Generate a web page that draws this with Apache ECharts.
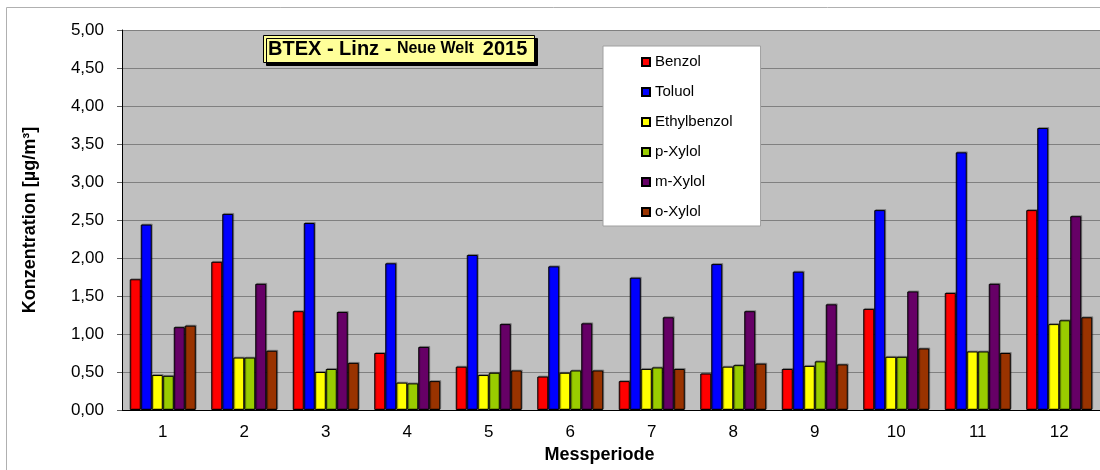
<!DOCTYPE html>
<html>
<head>
<meta charset="utf-8">
<script src="https://cdn.jsdelivr.net/npm/echarts@6/dist/echarts.min.js"></script>
<style>
  html, body { margin: 0; padding: 0; background: #fff; }
  #myChart { width: 1100px; height: 470px; }
</style>
</head>
<body>
<div id="myChart"></div>
<script>
// Messperioden 1-12
const perioden = ['1', '2', '3', '4', '5', '6', '7', '8', '9', '10', '11', '12']
const benzol      = [1.72, 1.95, 1.30, 0.75, 0.57, 0.44, 0.38, 0.48, 0.54, 1.33, 1.54, 2.63]
const toluol      = [2.44, 2.58, 2.46, 1.93, 2.04, 1.89, 1.74, 1.92, 1.82, 2.63, 3.39, 3.71]
const ethylbenzol = [0.46, 0.69, 0.50, 0.36, 0.46, 0.49, 0.54, 0.57, 0.58, 0.70, 0.77, 1.13]
const pXylol      = [0.45, 0.69, 0.54, 0.35, 0.49, 0.52, 0.56, 0.59, 0.64, 0.70, 0.77, 1.18]
const mXylol      = [1.09, 1.66, 1.29, 0.83, 1.13, 1.14, 1.22, 1.30, 1.39, 1.56, 1.66, 2.55]
const oXylol      = [1.11, 0.78, 0.62, 0.38, 0.52, 0.52, 0.54, 0.61, 0.60, 0.81, 0.75, 1.22]

const namen = ['Benzol', 'Toluol', 'Ethylbenzol', 'p-Xylol', 'm-Xylol', 'o-Xylol']
const farben = ['#FF0000', '#0000FF', '#FFFF00', '#99CC00', '#660066', '#993300']
const werte = [benzol, toluol, ethylbenzol, pXylol, mXylol, oXylol]

const font = '"Liberation Sans", Arial, sans-serif'

const series = namen.map((name, i) => ({
  name: name,
  type: 'bar',
  barWidth: 11,
  barGap: '0%',
  data: werte[i],
  itemStyle: {
    color: farben[i],
    borderColor: '#000',
    borderWidth: 1,
    shadowColor: 'rgba(0,0,0,0.25)',
    shadowOffsetX: 1,
    shadowOffsetY: -1,
    shadowBlur: 0
  }
}))

const option = {
  animation: false,
  textStyle: { fontFamily: font },
  graphic: [{
    type: 'rect',
    shape: { x: 6.5, y: 7.5, width: 1200, height: 600 },
    style: { fill: 'none', stroke: '#b0b0b0', lineWidth: 1 },
    z: -10
  }],
  title: {
    text: '{a|BTEX - Linz - }{b|Neue Welt  }{a|2015}',
    left: 263,
    top: 35,
    padding: [4, 7, 4, 5],
    backgroundColor: '#FFFF99',
    borderColor: '#000',
    borderWidth: 1,
    shadowColor: '#000',
    shadowOffsetX: 3,
    shadowOffsetY: 3,
    shadowBlur: 0,
    textStyle: {
      rich: {
        a: { fontFamily: font, fontWeight: 'bold', fontSize: 20, color: '#000', lineHeight: 20 },
        b: { fontFamily: font, fontWeight: 'bold', fontSize: 16, color: '#000', lineHeight: 20 }
      }
    }
  },
  legend: {
    data: namen,
    orient: 'vertical',
    left: 603,
    top: 46,
    backgroundColor: '#fff',
    borderColor: '#a0a0a0',
    borderWidth: 1,
    padding: [8, 28, 6, 38],
    itemWidth: 8,
    itemHeight: 8,
    itemGap: 14,
    icon: 'rect',
    textStyle: { fontFamily: font, fontSize: 15, color: '#000', lineHeight: 16 }
  },
  grid: {
    left: 122,
    top: 30,
    width: 982,
    height: 380,
    show: true,
    backgroundColor: '#C0C0C0',
    borderWidth: 0
  },
  xAxis: {
    type: 'category',
    data: perioden,
    name: 'Messperiode',
    nameLocation: 'middle',
    nameGap: 31,
    nameTextStyle: { fontFamily: font, fontWeight: 'bold', fontSize: 18, color: '#000', padding: [0, 23, 0, 0] },
    axisLine: { lineStyle: { color: '#000', width: 1 } },
    axisTick: { length: 5, lineStyle: { color: '#808080' } },
    axisLabel: { fontFamily: font, fontSize: 17, color: '#000', margin: 14 }
  },
  yAxis: {
    type: 'value',
    min: 0,
    max: 5,
    interval: 0.5,
    name: 'Konzentration [µg/m³]',
    nameLocation: 'middle',
    nameGap: 83,
    nameTextStyle: { fontFamily: font, fontWeight: 'bold', fontSize: 18, color: '#000' },
    axisLine: { show: true, lineStyle: { color: '#000', width: 1 } },
    axisTick: { show: true, length: 5, lineStyle: { color: '#606060' } },
    axisLabel: {
      fontFamily: font,
      fontSize: 17,
      color: '#000',
      margin: 18,
      formatter: v => v.toFixed(2).replace('.', ',')
    },
    splitLine: { lineStyle: { color: '#808080', width: 1 } }
  },
  series: series
}

const myChart = echarts.init(document.getElementById('myChart'))
myChart.setOption(option)
</script>
</body>
</html>
